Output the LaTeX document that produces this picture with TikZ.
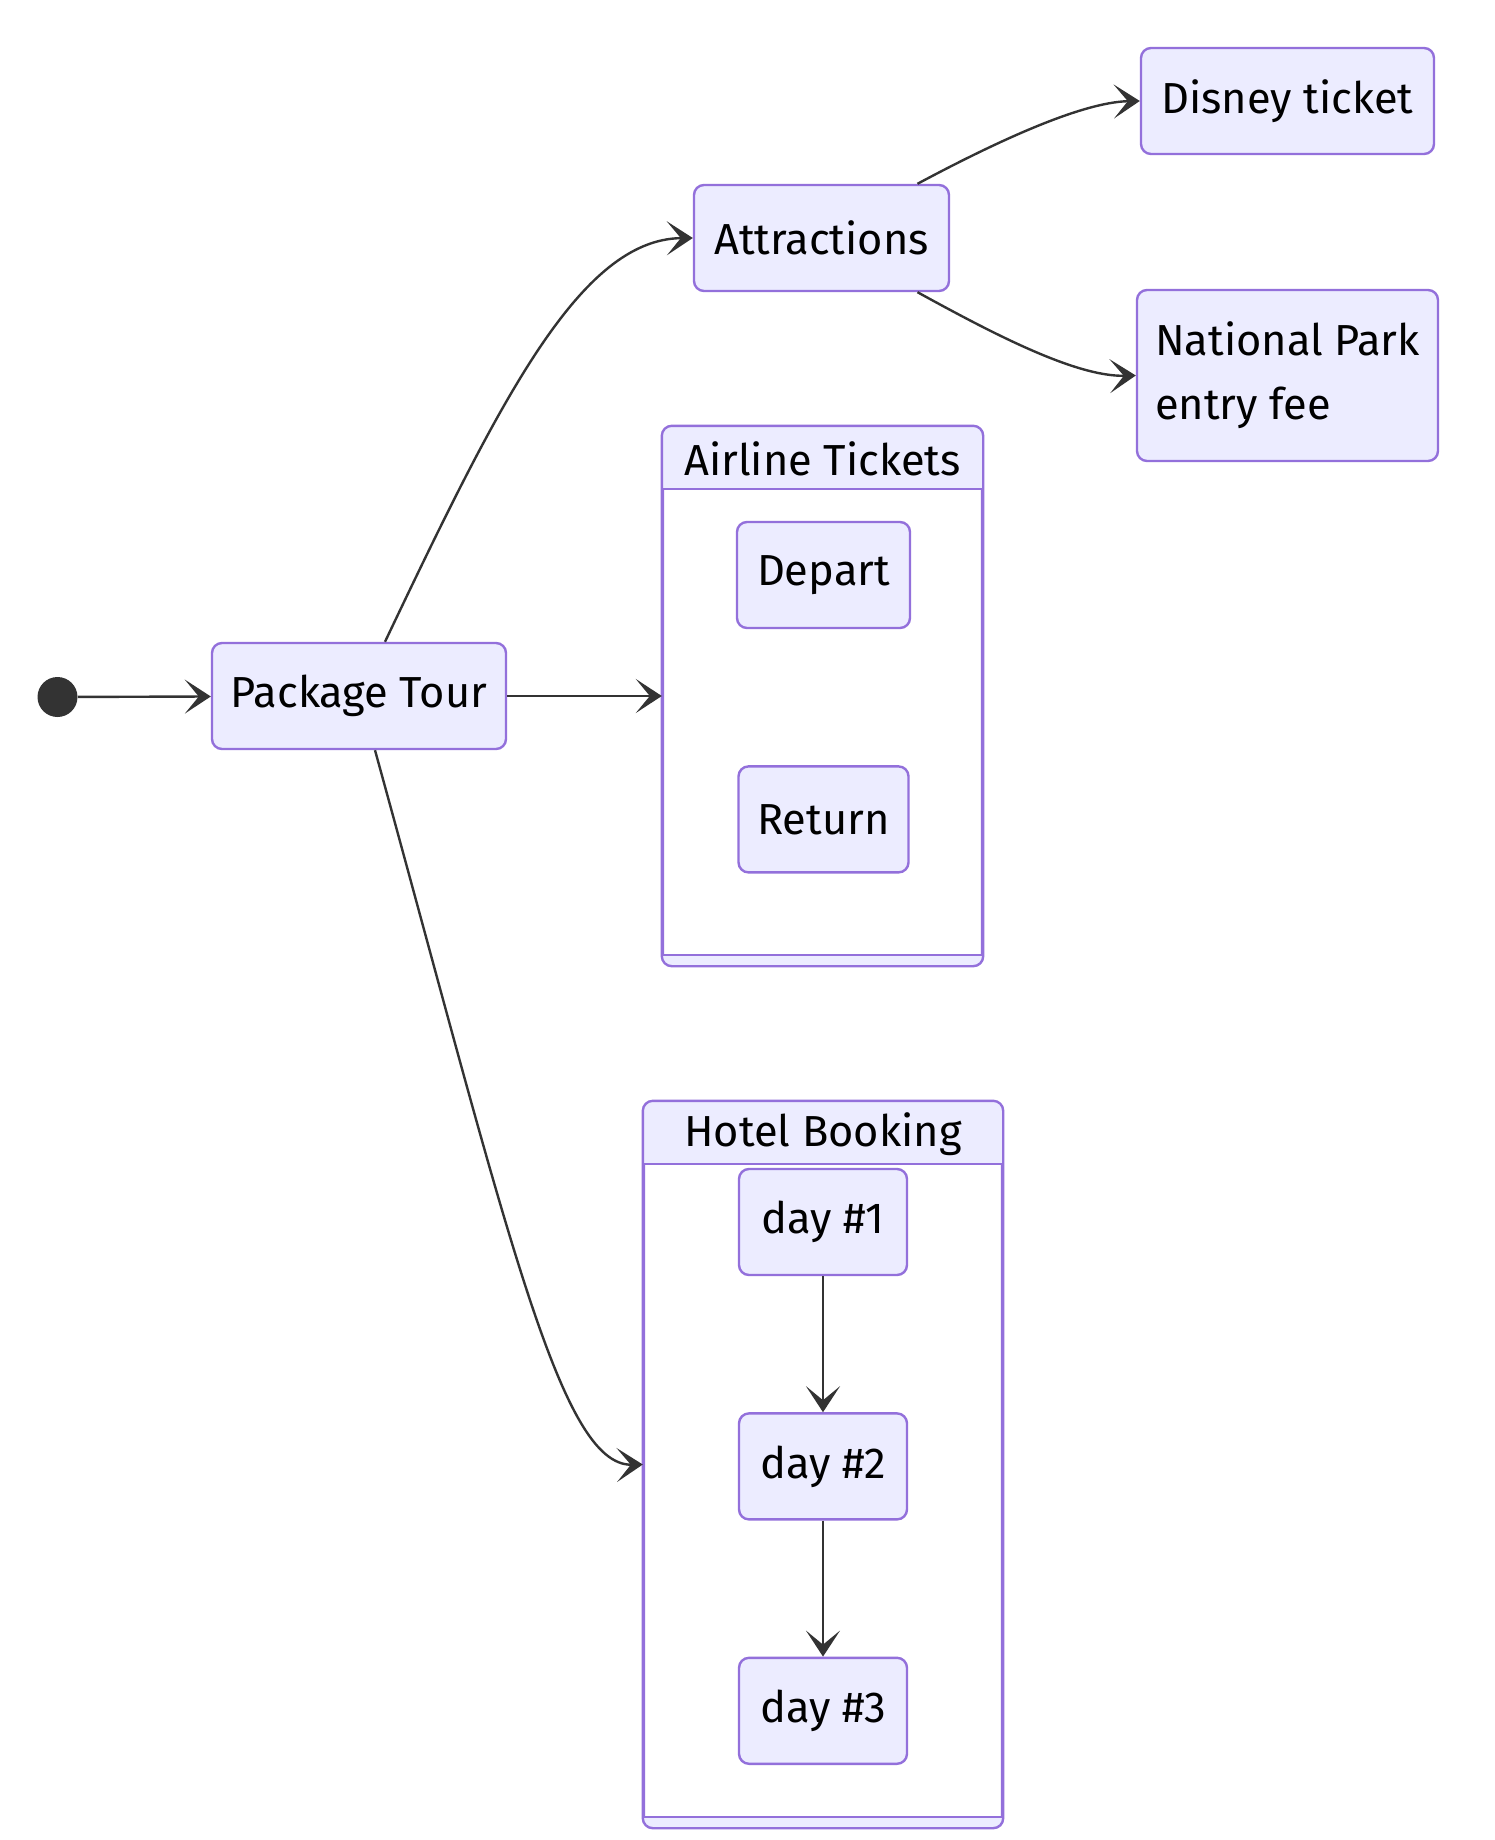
\documentclass[tikz,border=0pt]{standalone}
\usepackage{fontspec}
\setmainfont{Fira Sans}
\usetikzlibrary{positioning}
\usetikzlibrary{arrows.meta}
\definecolor{statefill}{HTML}{ECECFF}
\definecolor{stateline}{HTML}{9370DB}
\definecolor{edgeline}{HTML}{333333}

\begin{document}
\begin{tikzpicture}[x=0.5pt,y=-0.5pt,node distance=68pt,
          state/.style={draw=stateline,fill=statefill,line width=1.2pt,rounded corners=5pt,
            minimum height=53pt,inner xsep=8pt,font=\fontsize{21.7}{24}\selectfont},
          group/.style={draw=stateline,fill=white,line width=1.2pt,rounded corners=5pt,inner sep=0pt},
          band/.style={fill=statefill,rounded corners=5pt},
          title/.style={font=\fontsize{21.7}{24}\selectfont},
          trans/.style={draw=edgeline,line width=1.2pt,-{Stealth[length=13pt,width=17pt,inset=7pt]}}]
  \useasboundingbox (0,0) rectangle (1494,1840);

  % start and first state
  \node[circle,fill=edgeline,inner sep=0pt,minimum size=20pt] (init) at (57.5,697) {};
  \node[state,minimum width=147pt] (tour) at (359,696) {Package Tour};

  % attractions
  \node[state,minimum width=127.5pt] (attr) at (821.5,238) {Attractions};
  \node[state,minimum width=146.5pt] (disney) at (1287.5,101) {Disney ticket};
  \node[state,minimum width=150.5pt,minimum height=85.5pt,align=left,
        font=\fontsize{21.7}{32}\selectfont] (park) at (1287.5,375.5) {National Park\\entry fee};

  % airline tickets (composite)
  \node[group,minimum width=159.5pt,minimum height=269pt] (air) at (822.5,696) {};
  \begin{scope}
    \clip (650,420) rectangle (1000,489) (650,955) rectangle (1000,975);
    \fill[band] (air.north west) rectangle (air.south east);
  \end{scope}
  \draw[stateline,line width=1.2pt] (663,489) -- (982,489) (663,955) -- (982,955);
  \draw[stateline,line width=1.2pt,rounded corners=5pt] (air.north west) rectangle (air.south east);
  \node[title] (airtitle) at (822.5,459) {Airline Tickets};
  \node[state,minimum width=86.5pt] (depart) at (823.5,575) {Depart};
  \node[state,minimum width=85pt,below=of depart] (return) {Return};

  % hotel booking (composite)
  \node[group,minimum width=179pt,minimum height=362.5pt] (hotel) at (823,1464.5) {};
  \begin{scope}
    \clip (630,1095) rectangle (1010,1164) (630,1817) rectangle (1010,1835);
    \fill[band] (hotel.north west) rectangle (hotel.south east);
  \end{scope}
  \draw[stateline,line width=1.2pt] (644,1164) -- (1002,1164) (644,1817) -- (1002,1817);
  \draw[stateline,line width=1.2pt,rounded corners=5pt] (hotel.north west) rectangle (hotel.south east);
  \node[title] (hoteltitle) at (823,1134) {Hotel Booking};
  \node[state,minimum width=84pt] (day1) at (823,1222) {day \#1};
  \node[state,minimum width=84pt,below=of day1] (day2) {day \#2};
  \node[state,minimum width=84pt,below=of day2] (day3) {day \#3};

  % transitions
  \draw[trans] (init) -- (tour);
  \draw[trans] (tour) -- (air);
  \draw[trans] (tour.north) ++(26,0) .. controls (500,400) and (580,239) .. (attr.west);
  \draw[trans] (tour.south) ++(16,0) .. controls (508,1233) and (560,1466) .. (hotel.west);
  \draw[trans] (attr.north) ++(96,0) .. controls (990,145) and (1080,102) .. (disney.west);
  \draw[trans] (attr.south) ++(96,0) .. controls (990,332) and (1075,377) .. (park.west);
  \draw[trans] (day1) -- (day2);
  \draw[trans] (day2) -- (day3);
\end{tikzpicture}
\end{document}
